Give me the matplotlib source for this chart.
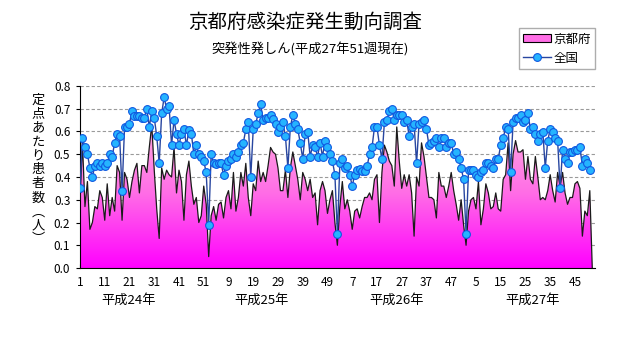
import numpy as np
import matplotlib
matplotlib.use("Agg")
from matplotlib import pyplot as plt
from matplotlib.lines import Line2D
from matplotlib.patches import Patch
from matplotlib.colors import LinearSegmentedColormap

plt.rcParams['font.family'] = ['Noto Sans CJK JP', 'DejaVu Sans']

title = "京都府感染症発生動向調査"
subtitle = "突発性発しん(平成27年51週現在)"
ylabel_chars = ["定", "点", "あ", "た", "り", "患", "者", "数", "︵", "人", "︶"]
series_names = ["京都府", "全国"]
year_labels = ["平成24年", "平成25年", "平成26年", "平成27年"]
weeks_per_year = [52, 52, 52, 52]   # last week of 平成27年 is still blank

# 定点あたり患者数, 平成24年第1週 -> 平成27年第51週
kyoto = [
    0.30, 0.55, 0.27, 0.38, 0.17, 0.20, 0.27, 0.26, 0.34, 0.31,
    0.21, 0.37, 0.23, 0.31, 0.25, 0.45, 0.42, 0.21, 0.42, 0.39,
    0.31, 0.38, 0.43, 0.46, 0.33, 0.45, 0.45, 0.42, 0.53, 0.63,
    0.43, 0.26, 0.13, 0.44, 0.39, 0.43, 0.41, 0.40, 0.53, 0.33,
    0.43, 0.38, 0.21, 0.41, 0.47, 0.36, 0.28, 0.31, 0.20, 0.23,
    0.36, 0.28,
    0.05, 0.23, 0.27, 0.21, 0.28, 0.29, 0.22, 0.31, 0.34, 0.26,
    0.42, 0.25, 0.31, 0.42, 0.36, 0.46, 0.31, 0.23, 0.37, 0.34,
    0.47, 0.38, 0.42, 0.38, 0.45, 0.53, 0.51, 0.50, 0.44, 0.34,
    0.34, 0.43, 0.31, 0.44, 0.51, 0.45, 0.39, 0.30, 0.42, 0.39,
    0.34, 0.39, 0.31, 0.33, 0.19, 0.34, 0.38, 0.34, 0.24, 0.30,
    0.34, 0.20,
    0.10, 0.27, 0.38, 0.26, 0.30, 0.25, 0.17, 0.25, 0.26, 0.22,
    0.27, 0.31, 0.31, 0.33, 0.30, 0.39, 0.41, 0.20, 0.42, 0.54,
    0.51, 0.47, 0.45, 0.36, 0.62, 0.47, 0.35, 0.41, 0.36, 0.41,
    0.33, 0.14, 0.40, 0.36, 0.55, 0.49, 0.40, 0.31, 0.31, 0.30,
    0.22, 0.42, 0.36, 0.36, 0.31, 0.36, 0.42, 0.34, 0.28, 0.21,
    0.30, 0.19,
    0.10, 0.25, 0.30, 0.31, 0.26, 0.38, 0.19, 0.26, 0.37, 0.33,
    0.26, 0.27, 0.33, 0.26, 0.25, 0.39, 0.41, 0.55, 0.34, 0.50,
    0.56, 0.51, 0.51, 0.52, 0.39, 0.49, 0.39, 0.37, 0.49, 0.40,
    0.30, 0.31, 0.30, 0.34, 0.41, 0.34, 0.29, 0.42, 0.36, 0.42,
    0.33, 0.28, 0.31, 0.31, 0.37, 0.38, 0.35, 0.14, 0.25, 0.23,
    0.34,
]

national = [
    0.35, 0.57, 0.53, 0.50, 0.44, 0.40, 0.45, 0.46, 0.45, 0.46,
    0.45, 0.46, 0.50, 0.49, 0.55, 0.59, 0.58, 0.34, 0.62, 0.62,
    0.635, 0.69, 0.67, 0.67, 0.67, 0.66, 0.66, 0.70, 0.62, 0.69,
    0.66, 0.58, 0.46, 0.68, 0.75, 0.70, 0.71, 0.54, 0.65, 0.59,
    0.54, 0.59, 0.61, 0.54, 0.605, 0.59, 0.50, 0.54, 0.50, 0.49,
    0.47, 0.42,
    0.19, 0.50, 0.46, 0.455, 0.46, 0.46, 0.41, 0.45, 0.47, 0.48,
    0.50, 0.49, 0.51, 0.54, 0.55, 0.61, 0.64, 0.40, 0.61, 0.633,
    0.68, 0.72, 0.65, 0.66, 0.66, 0.673, 0.657, 0.635, 0.60, 0.62,
    0.64, 0.58, 0.44, 0.62, 0.673, 0.633, 0.61, 0.55, 0.48, 0.59,
    0.60, 0.49, 0.54, 0.53, 0.49, 0.55, 0.49, 0.56, 0.53, 0.50,
    0.47, 0.41,
    0.15, 0.46, 0.48, 0.44, 0.45, 0.41, 0.36, 0.41, 0.43, 0.433,
    0.427, 0.427, 0.447, 0.50, 0.53, 0.62, 0.62, 0.54, 0.48, 0.64,
    0.65, 0.69, 0.70, 0.65, 0.673, 0.673, 0.673, 0.64, 0.65, 0.58,
    0.62, 0.633, 0.46, 0.633, 0.64, 0.65, 0.61, 0.54, 0.55, 0.56,
    0.57, 0.53, 0.57, 0.57, 0.53, 0.55, 0.55, 0.50, 0.51, 0.48,
    0.44, 0.39,
    0.15, 0.43, 0.43, 0.43, 0.41, 0.40, 0.42, 0.43, 0.46, 0.46,
    0.45, 0.44, 0.48, 0.48, 0.54, 0.57, 0.62, 0.61, 0.42, 0.64,
    0.66, 0.66, 0.673, 0.64, 0.65, 0.68, 0.61, 0.62, 0.59, 0.56,
    0.59, 0.60, 0.44, 0.56, 0.61, 0.60, 0.57, 0.56, 0.35, 0.52,
    0.48, 0.46, 0.51, 0.51, 0.52, 0.52, 0.53, 0.45, 0.48, 0.46,
    0.43,
]

# category axis: week number within each year
week_no = [w for n in weeks_per_year for w in range(1, n + 1)]
x = np.arange(1, len(week_no) + 1)
kyo = np.zeros(len(x))              # blank cells drawn as 0 like the original sheet
kyo[:len(kyoto)] = kyoto
nat = np.full(len(x), np.nan)
nat[:len(national)] = national

fig = plt.figure(figsize=(6.31, 3.47), dpi=100)
ax = fig.add_axes([80 / 631, 1 - 268 / 347, 515 / 631, 182 / 347])

# 京都府: gradient area
poly = ax.fill_between(x, kyo, 0, facecolor="none", edgecolor="none")
cmap = LinearSegmentedColormap.from_list("pink", ["#ff00ff", "#ff6ee6", "#ffaee0"])
grad = np.linspace(0, 1, 256).reshape(-1, 1)
im = ax.imshow(grad, cmap=cmap, aspect="auto", origin="lower",
               extent=(x[0], x[-1], 0, 0.66), zorder=2, interpolation="bilinear")
im.set_clip_path(poly.get_paths()[0], transform=ax.transData)
ax.plot(x, kyo, color="#1a1a1a", lw=0.9, zorder=3)

# 全国
ax.plot(x, nat, color="#2846a0", lw=1.0, marker="o", ms=5.6,
        mfc="#25b4ff", mec="#1058e0", mew=0.8, zorder=4)

ax.set_xlim(1, 209.1)
ax.set_ylim(0, 0.8)
ax.set_yticks(np.arange(0, 0.81, 0.1))
ax.set_yticklabels(["{:.1f}".format(v) for v in np.arange(0, 0.81, 0.1)], fontsize=8.5)
ax.yaxis.grid(True, linestyle=(0, (3, 2)), color="#9a9a9a", lw=0.8)
ax.set_axisbelow(True)

ax.set_xticks(x[::5], minor=True)
ax.set_xticks(x[::10])
ax.set_xticklabels([str(week_no[i - 1]) for i in x[::10]], fontsize=8.5)
ax.tick_params(axis="x", which="both", direction="in", length=3, pad=6)
ax.tick_params(axis="y", direction="out", length=3, pad=4)

for s in ["top", "right"]:
    ax.spines[s].set_visible(False)

year_pos = [20.5, 74.5, 129, 184]
for xp, lab in zip(year_pos, year_labels):
    ax.text(xp, -0.176, lab, transform=ax.get_xaxis_transform(),
            ha="center", va="center", fontsize=9.5)

fig.text(0.484, 1 - 22 / 347, title, ha="center", va="center", fontsize=14)
fig.text(0.492, 1 - 50 / 347, subtitle, ha="center", va="center", fontsize=9.5)
fig.text(38 / 631, 1 - 170 / 347, "\n".join(ylabel_chars), ha="center", va="center",
         fontsize=9.5, linespacing=1.1)

handles = [Patch(facecolor="#ff6ee6", edgecolor="black", lw=0.8),
           Line2D([], [], color="#2846a0", lw=1.0, marker="o", ms=5.6,
                  mfc="#25b4ff", mec="#1058e0", mew=0.8)]
fig.legend(handles, series_names, loc="upper right", bbox_to_anchor=(0.943, 0.919),
           frameon=True, fancybox=False, edgecolor="#999999", fontsize=9,
           handlelength=2.2, borderpad=0.35, labelspacing=0.5, handletextpad=0.2,
           borderaxespad=0)

plt.savefig("out.png", dpi=100)
